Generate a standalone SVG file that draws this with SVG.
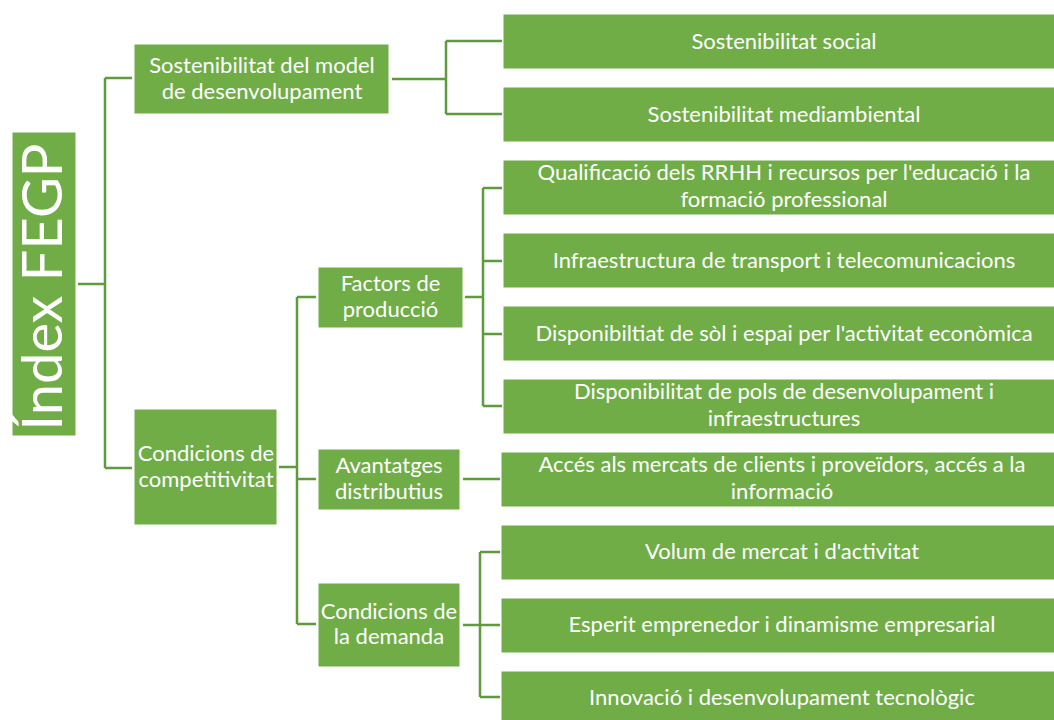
<svg xmlns="http://www.w3.org/2000/svg" width="1054" height="720" viewBox="0 0 1054 720">
<style>
.box{fill:#70AD47;stroke:#ffffff;stroke-width:1}
.t{font-family:Lato,"Open Sans","Liberation Sans",sans-serif;font-size:22px;fill:#ffffff;text-anchor:middle}
.c{fill:none;stroke:#5E9B3D;stroke-width:2.5}
</style>
<rect width="1054" height="720" fill="#ffffff"/>
<g id="connectors">
<path class="c" d="M78,284 H105 M105,78 V468 M105,78 H132 M105,468 H132"/>
<path class="c" d="M392,79 H446 M446,41 V114 M446,41 H502 M446,114 H502"/>
<path class="c" d="M279,467 H297 M297,297 V624 M297,297 H316 M297,479 H316 M297,624 H316"/>
<path class="c" d="M465,297 H483 M483,188 V406 M483,188 H502 M483,261 H502 M483,334 H502 M483,406 H502"/>
<path class="c" d="M463,479 H500"/>
<path class="c" d="M463,625 H480 M480,552 V697 M480,552 H500 M480,625 H500 M480,697 H500"/>
</g>
<g id="root">
<rect class="box" x="12" y="132" width="64" height="304"/>
<text transform="translate(62,287) rotate(-90)" style="font-family:Lato,'Open Sans','Liberation Sans',sans-serif;font-size:56px;fill:#ffffff;text-anchor:middle">Índex FEGP</text>
</g>
<g id="sostenibilitat-model">
<rect class="box" x="134" y="44" width="255" height="70"/>
<text class="t" x="262" y="73">Sostenibilitat del model</text>
<text class="t" x="262" y="99">de desenvolupament</text>
</g>
<g id="condicions-competitivitat">
<rect class="box" x="134" y="409" width="143" height="116"/>
<text class="t" x="206" y="461">Condicions de</text>
<text class="t" x="206" y="487">competitivitat</text>
</g>
<g id="factors-produccio">
<rect class="box" x="318" y="267" width="145" height="61"/>
<text class="t" x="390.5" y="291">Factors de</text>
<text class="t" x="390.5" y="317">producció</text>
</g>
<g id="avantatges">
<rect class="box" x="318" y="449" width="142" height="61"/>
<text class="t" x="389" y="473">Avantatges</text>
<text class="t" x="389" y="499">distributius</text>
</g>
<g id="condicions-demanda">
<rect class="box" x="318" y="583" width="142" height="84"/>
<text class="t" x="389" y="619">Condicions de</text>
<text class="t" x="389" y="644">la demanda</text>
</g>
<g id="sost-social">
<rect class="box" x="503" y="14" width="560" height="55"/>
<text class="t" x="784" y="49">Sostenibilitat social</text>
</g>
<g id="sost-mediambiental">
<rect class="box" x="503" y="87" width="560" height="55"/>
<text class="t" x="784" y="122">Sostenibilitat mediambiental</text>
</g>
<g id="qualificacio">
<rect class="box" x="503" y="160" width="560" height="55"/>
<text class="t" x="784" y="180">Qualificació dels RRHH i recursos per l'educació i la</text>
<text class="t" x="784" y="207">formació professional</text>
</g>
<g id="infraestructura">
<rect class="box" x="503" y="233" width="560" height="55"/>
<text class="t" x="784" y="268">Infraestructura de transport i telecomunicacions</text>
</g>
<g id="disponibilitat-sol">
<rect class="box" x="503" y="306" width="560" height="55"/>
<text class="t" x="784" y="341">Disponibiltiat de sòl i espai per l'activitat econòmica</text>
</g>
<g id="disponibilitat-pols">
<rect class="box" x="503" y="379" width="560" height="55"/>
<text class="t" x="784" y="399">Disponibilitat de pols de desenvolupament i</text>
<text class="t" x="784" y="426">infraestructures</text>
</g>
<g id="acces">
<rect class="box" x="501" y="452" width="562" height="55"/>
<text class="t" x="782" y="472">Accés als mercats de clients i proveïdors, accés a la</text>
<text class="t" x="782" y="499">informació</text>
</g>
<g id="volum">
<rect class="box" x="501" y="525" width="562" height="55"/>
<text class="t" x="782" y="559">Volum de mercat i d'activitat</text>
</g>
<g id="esperit">
<rect class="box" x="501" y="598" width="562" height="55"/>
<text class="t" x="782" y="632">Esperit emprenedor i dinamisme empresarial</text>
</g>
<g id="innovacio">
<rect class="box" x="501" y="671" width="562" height="55"/>
<text class="t" x="782" y="705">Innovació i desenvolupament tecnològic</text>
</g>
</svg>
